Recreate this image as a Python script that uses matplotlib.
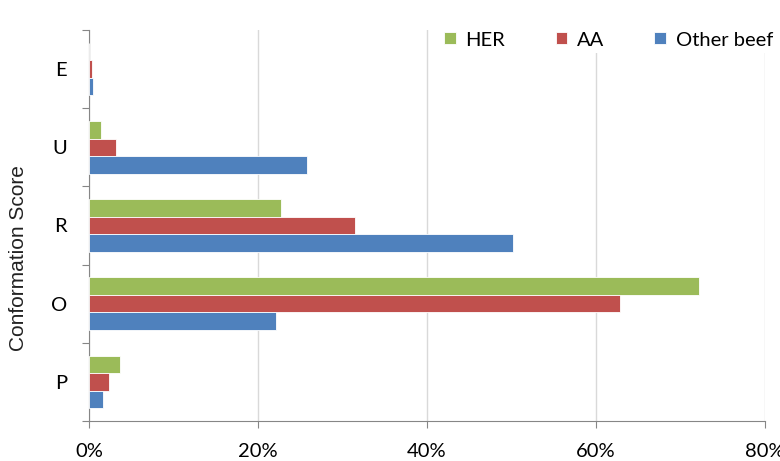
import matplotlib
matplotlib.use("Agg")
import matplotlib.pyplot as plt
import numpy as np

categories = ["P", "O", "R", "U", "E"]
series_names = ["HER", "AA", "Other beef"]
her = [3.7, 72.2, 22.7, 1.4, 0.0]
aa = [2.4, 62.8, 31.5, 3.2, 0.3]
other = [1.6, 22.1, 50.2, 25.8, 0.5]
xticks = [0, 20, 40, 60, 80]
xtick_labels = ["0%", "20%", "40%", "60%", "80%"]

colors = ["#9BBB59", "#C0504D", "#4F81BD"]

plt.rcParams['font.family'] = ['Lato', 'DejaVu Sans']
FS = 14.5

fig = plt.figure(figsize=(7.8, 4.61), dpi=100)
ax = fig.add_axes([89/780, 40/461, (765-89)/780, (421-30)/461])

y = np.arange(len(categories))
h = 0.225
for vals, off, c, name in zip([her, aa, other], [h, 0, -h], colors, series_names):
    ax.barh(y + off, vals, height=h, color=c, edgecolor="white", linewidth=0.6, label=name, zorder=3)

ax.set_xlim(0, 80)
ax.set_ylim(-0.5, len(categories) - 0.5)
ax.set_xticks(xticks)
ax.set_xticklabels(xtick_labels, fontsize=FS)
ax.grid(axis="x", color="#D9D9D9", linewidth=1, zorder=0)

ax.set_yticks(np.arange(-0.5, len(categories), 1.0))
ax.set_yticklabels([])
ax.set_yticks(y, minor=True)
ax.set_yticklabels(categories, minor=True, fontsize=FS)
ax.tick_params(axis="y", which="minor", length=0, pad=16)
ax.tick_params(axis="y", which="major", length=5, color="#868686", direction="out")
ax.tick_params(axis="x", length=5, color="#868686", direction="out", pad=11)

for s in ["top", "right"]:
    ax.spines[s].set_visible(False)
for s in ["left", "bottom"]:
    ax.spines[s].set_color("#868686")

ax.set_ylabel("Conformation Score", fontsize=15, family=["Liberation Sans", "DejaVu Sans"],
              color="#222222")
ax.yaxis.set_label_coords((28 - 89) / 676, (421 - 258) / 391)

leg = fig.legend(*ax.get_legend_handles_labels(), loc="center right", ncol=3,
                 frameon=True, fontsize=FS, handlelength=0.55, handleheight=0.55,
                 handletextpad=0.5, columnspacing=2.5, borderpad=0.2,
                 borderaxespad=0, bbox_to_anchor=(777/780, (461-40)/461))
leg.get_frame().set_facecolor("white")
leg.get_frame().set_edgecolor("none")
leg.get_frame().set_alpha(1)
leg.get_frame().set_boxstyle("square", pad=0)

fig.savefig("out.png", dpi=100)
